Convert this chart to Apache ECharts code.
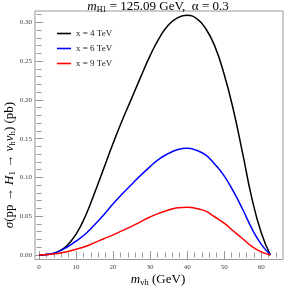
<!DOCTYPE html>
<html><head><meta charset="utf-8">
<script src="https://cdn.jsdelivr.net/npm/echarts@6/dist/echarts.min.js"></script>
<style>html,body{margin:0;padding:0;background:#fff}#c{width:284px;height:290px}</style>
</head><body><div id="c"></div>
<script>
// data
const mvh    = [0, 2.5, 5, 7.5, 10, 12.5, 15, 17.5, 20, 22.5, 25, 27.5, 30, 32.5, 35, 37.5, 40, 42.5, 45, 47.5, 50, 52.5, 55, 57.5, 60, 62.5];
const sigma4 = [0, 0.0006, 0.004, 0.012, 0.027, 0.050, 0.080, 0.112, 0.144, 0.174, 0.202, 0.230, 0.257, 0.280, 0.297, 0.306, 0.309, 0.305, 0.292, 0.269, 0.233, 0.187, 0.131, 0.073, 0.029, 0];
const sigma6 = [0, 0.001, 0.004, 0.010, 0.018, 0.027, 0.039, 0.052, 0.066, 0.079, 0.091, 0.103, 0.114, 0.124, 0.131, 0.136, 0.1376, 0.135, 0.129, 0.117, 0.102, 0.082, 0.059, 0.034, 0.014, 0];
const sigma9 = [0, 0.0006, 0.002, 0.0042, 0.0075, 0.011, 0.016, 0.021, 0.026, 0.0315, 0.037, 0.043, 0.049, 0.054, 0.058, 0.061, 0.0615, 0.060, 0.0565, 0.049, 0.041, 0.031, 0.021, 0.011, 0.004, 0];
const seriesNames = ['x = 4 TeV', 'x = 6 TeV', 'x = 9 TeV'];
const xTickLabels = [0, 10, 20, 30, 40, 50, 60];
const xMinorTicks = [0, 2, 4, 6, 8, 10, 12, 14, 16, 18, 20, 22, 24, 26, 28, 30, 32, 34, 36, 38, 40, 42, 44, 46, 48, 50, 52, 54, 56, 58, 60, 62, 64];
const yTickLabels = [0, 0.05, 0.10, 0.15, 0.20, 0.25, 0.30];
const yMinorTicks = [0, 0.01, 0.02, 0.03, 0.04, 0.05, 0.06, 0.07, 0.08, 0.09, 0.10, 0.11, 0.12, 0.13, 0.14, 0.15, 0.16, 0.17, 0.18, 0.19, 0.20, 0.21, 0.22, 0.23, 0.24, 0.25, 0.26, 0.27, 0.28, 0.29, 0.30, 0.31];

const X_MIN = -1.1, X_MAX = 65.9, Y_MIN = -0.0058, Y_MAX = 0.3146;
const SERIF = 'Liberation Serif';
const tickColor = '#999';

function xAx(pos, ticks, len, labels) {
  return {
    type: 'value', position: pos, min: X_MIN, max: X_MAX,
    axisLine: { show: false }, splitLine: { show: false },
    axisTick: { show: true, inside: true, length: len, customValues: ticks, lineStyle: { color: tickColor, width: 1 } },
    axisLabel: labels ? { show: true, customValues: labels, fontFamily: SERIF, fontSize: 7, color: '#444', margin: 4 } : { show: false }
  };
}
function yAx(pos, ticks, len, labels) {
  return {
    type: 'value', position: pos, min: Y_MIN, max: Y_MAX,
    axisLine: { show: false }, splitLine: { show: false },
    axisTick: { show: true, inside: true, length: len, customValues: ticks, lineStyle: { color: tickColor, width: 1 } },
    axisLabel: labels ? { show: true, customValues: labels, fontFamily: SERIF, fontSize: 7, color: '#444', margin: 3, formatter: v => v.toFixed(2) } : { show: false }
  };
}

const colors = ['#000000', '#0000ff', '#ff0000'];
const allData = [sigma4, sigma6, sigma9];

const chart = echarts.init(document.getElementById('c'), null, { renderer: 'canvas' });
chart.setOption({
  animation: false,
  backgroundColor: '#fff',
  grid: { left: 35, right: 1, top: 11, bottom: 30.5, show: true, borderColor: '#999', borderWidth: 1, backgroundColor: 'transparent' },
  xAxis: [
    xAx('bottom', xTickLabels, 4, xTickLabels),
    xAx('bottom', xMinorTicks, 2.5, null),
    xAx('top', xTickLabels, 4, null),
    xAx('top', xMinorTicks, 2.5, null)
  ],
  yAxis: [
    yAx('left', yTickLabels, 4, yTickLabels),
    yAx('left', yMinorTicks, 2.5, null),
    yAx('right', yTickLabels, 4, null),
    yAx('right', yMinorTicks, 2.5, null)
  ],
  legend: {
    orient: 'vertical', left: 52, top: 23, itemGap: 4,
    icon: 'rect', itemWidth: 14, itemHeight: 1.6,
    textStyle: { fontFamily: SERIF, fontSize: 9, color: '#222', lineHeight: 11 },
    data: seriesNames
  },
  series: seriesNames.map((name, i) => ({
    name, type: 'line', smooth: 0.5, showSymbol: false,
    xAxisIndex: 0, yAxisIndex: 0,
    lineStyle: { color: colors[i], width: 1.5 },
    itemStyle: { color: colors[i] },
    data: mvh.map((x, k) => [x, allData[i][k]])
  })),
  graphic: [
    { type: 'text', silent: true, x: 158, y: 0,
      style: { text: '{i|m}{s|H1} = 125.09 GeV,  {n|α = 0.3}', x: 0, y: 0, align: 'center', verticalAlign: 'top',
        font: '13px ' + SERIF, fill: '#000',
        rich: {
          i: { fontFamily: SERIF, fontStyle: 'italic', fontSize: 13, lineHeight: 14 },
          s: { fontFamily: SERIF, fontSize: 8, lineHeight: 14, verticalAlign: 'bottom' },
          n: { fontFamily: SERIF, fontSize: 13, lineHeight: 14 }
        } } },
    { type: 'text', silent: true, x: 2, y: 165, rotation: Math.PI / 2,
      style: { text: '{i|σ}(pp → {i|H}{s|1} → {i|ν}{s|h}{i|ν}{s|h}) (pb)', x: 0, y: 0, align: 'center', verticalAlign: 'top',
        font: '13px ' + SERIF, fill: '#000',
        rich: {
          i: { fontFamily: SERIF, fontStyle: 'italic', fontSize: 13, lineHeight: 15 },
          s: { fontFamily: SERIF, fontSize: 9, lineHeight: 15, verticalAlign: 'bottom' }
        } } },
    { type: 'text', silent: true, x: 158, y: 272,
      style: { text: '{i|m}{s|νh} (GeV)', x: 0, y: 0, align: 'center', verticalAlign: 'top',
        font: '13px ' + SERIF, fill: '#000',
        rich: {
          i: { fontFamily: SERIF, fontStyle: 'italic', fontSize: 13, lineHeight: 15 },
          s: { fontFamily: SERIF, fontSize: 9, lineHeight: 15, verticalAlign: 'bottom' }
        } } }
  ]
});
</script></body></html>
